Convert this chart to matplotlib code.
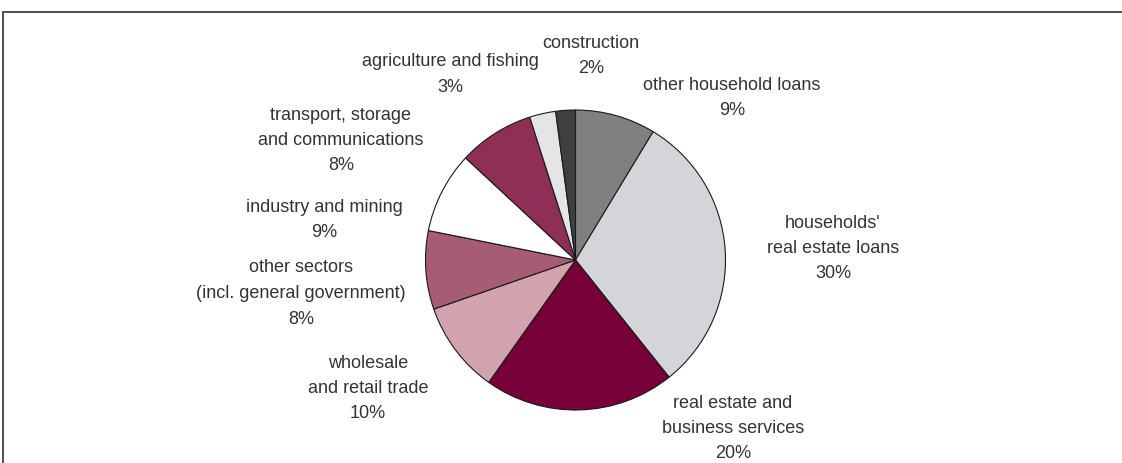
import matplotlib
matplotlib.use("Agg")
import matplotlib.pyplot as plt
from matplotlib.patches import Rectangle

plt.rcParams['font.family'] = ['Liberation Sans', 'DejaVu Sans']

W, H = 1122, 463

categories = [
    "other household loans",
    "households'\nreal estate loans",
    "real estate and\nbusiness services",
    "wholesale\nand retail trade",
    "other sectors\n(incl. general government)",
    "industry and mining",
    "transport, storage\nand communications",
    "agriculture and fishing",
    "construction",
]
values = [8.6, 30.4, 20.4, 9.8, 8.4, 8.7, 8.1, 2.8, 2.1]
colors = ["#808080", "#D4D5D8", "#780039", "#D0A3AF", "#A65D74",
          "#FFFFFF", "#8F2F55", "#E4E5E7", "#3F3F3F"]
# label centres (pixels, first line centre)
label_pos = [(732, 85), (833, 223), (733, 403), (368, 363), (301, 268),
             (324, 207), (341, 115), (450, 62), (591, 43)]

fig = plt.figure(figsize=(W / 100, H / 100), dpi=100)

# frame
fig.patches.append(Rectangle((3 / W, -0.1), 1.2, (H - 12) / H + 0.1,
                             transform=fig.transFigure, fill=False,
                             edgecolor="#404040", linewidth=1.3))

cx, cy, r = 575.5, 260, 150
ax = fig.add_axes([(cx - r) / W, (H - cy - r) / H, 2 * r / W, 2 * r / H])
ax.pie(values, colors=colors, startangle=90, counterclock=False,
       wedgeprops=dict(edgecolor="#1a1a1a", linewidth=0.8))
ax.set_xlim(-1, 1)
ax.set_ylim(-1, 1)
ax.set_aspect('equal')
ax.axis('off')

lh = 25.5
for cat, v, (x, y) in zip(categories, values, label_pos):
    lines = cat.split("\n") + [f"{round(v)}%"]
    for i, line in enumerate(lines):
        fig.text(x / W, 1 - (y + i * lh) / H, line, ha="center", va="center",
                 fontsize=13, color="#333333")

fig.savefig("out.png", dpi=100)
